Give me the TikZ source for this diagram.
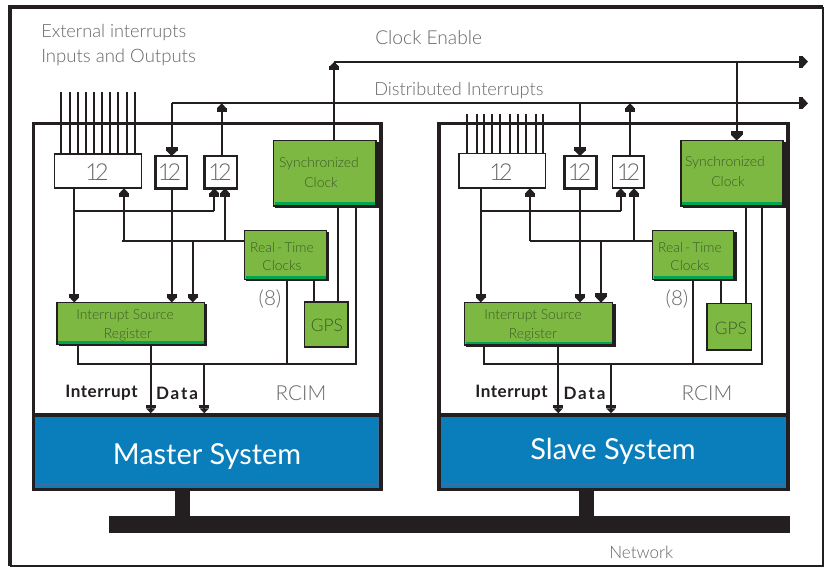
\documentclass[tikz,border=0pt]{standalone}
\usepackage{fontspec}
\setmainfont{Lato}
\newfontfamily\thinf{Lato Light}
\usetikzlibrary{arrows.meta,calc}
\definecolor{ink}{HTML}{231F20}
\definecolor{leaf}{HTML}{7DB942}
\definecolor{strip}{HTML}{00A651}
\definecolor{sea}{HTML}{0A7DBB}
\definecolor{seaedge}{HTML}{3F6F9F}
\definecolor{txt}{HTML}{666666}
\definecolor{gtxt}{HTML}{3E5A2A}
\tikzset{
  x=0.75pt,y=-0.75pt,
  wire/.style={draw=ink,line width=1.25pt},
  hd/.style={wire,-{Rectangle[width=7.6pt,length=2.6pt,sep=0pt]Triangle[width=6.6pt,length=3.6pt,sep=0pt]}},
  hdbig/.style={wire,-{Rectangle[width=9pt,length=3pt,sep=0pt]Triangle[width=8pt,length=4pt,sep=0pt]}},
  regbox/.style={draw=ink,line width=1.25pt,fill=white,inner sep=0pt,outer sep=0pt},
  regboxb/.style={regbox,line width=1.9pt},
  greenbox/.style={draw=ink,line width=1.4pt,fill=leaf,inner sep=0pt,outer sep=0pt},
  rcimbox/.style={draw=ink,line width=2.6pt,fill=white,inner sep=0pt,outer sep=0pt},
  sysbox/.style={draw=ink,line width=2.6pt,fill=sea,inner sep=0pt,outer sep=0pt},
  lab/.style={text=txt,font=\thinf\fontsize{13.6}{14}\selectfont,inner sep=0pt,anchor=base west},
  num/.style={text=txt,font=\thinf\fontsize{17.5}{18}\selectfont,inner sep=0pt},
  glab/.style={text=gtxt,font=\thinf\fontsize{10.4}{11}\selectfont,inner sep=0pt},
  gpslab/.style={glab,font=\thinf\fontsize{13}{14}\selectfont},
  rc/.style={text=txt,font=\thinf\fontsize{15.5}{16}\selectfont,inner sep=0pt},
  bli/.style={text=ink,font=\fontsize{12.8}{13}\selectfont\bfseries\addfontfeature{LetterSpace=3},inner sep=0pt},
  bld/.style={text=ink,font=\fontsize{12.8}{13}\selectfont\bfseries\addfontfeature{LetterSpace=11},inner sep=0pt},
  sy/.style={text=white,font=\fontsize{21.7}{24}\selectfont,inner sep=0pt},
  bus/.style={draw=none,fill=ink,inner sep=0pt,outer sep=0pt},
  intoframe/.style={shorten >=1.3pt},
}
% name, style, x1, y1, x2, y2
\newcommand{\bx}[6]{\node[#2,minimum width={(#5-#3)*0.75pt},minimum height={(#6-#4)*0.75pt}] (#1) at ({(#3+#5)/2},{(#4+#6)/2}) {};}
\newcommand{\twelve}{1\kern-3pt 2}
\newcommand{\rtime}{Real\kern1.5pt-\kern1.5pt Time}
\begin{document}
\begin{tikzpicture}
\useasboundingbox (0,0) rectangle (826,567);
\fill[white] (0,0) rectangle (826,567);
% outer frame
\draw[ink,line width=2.6pt] (823,7) -- (10,7) -- (10,566);
\draw[ink,line width=1.4pt] (823,7) -- (823,566) -- (10,566);

% network
\bx{mstem}{bus}{175}{488}{190}{518}
\bx{sstem}{bus}{579}{488}{594}{518}
\bx{net}{bus}{109}{516}{790}{533}

% boxes
\bx{mrcim}{rcimbox}{33.5}{123.5}{381}{415}
\bx{msys}{sysbox}{33.5}{415}{381}{489.5}
\bx{srcim}{rcimbox}{439}{123.5}{788}{415}
\bx{ssys}{sysbox}{439}{415}{788}{489.5}
\draw[seaedge,line width=0.6pt] (36,484.7) -- (378.5,484.7) -- (378.5,417.5);
\draw[seaedge,line width=0.6pt] (441.5,484.7) -- (785.5,484.7) -- (785.5,417.5);

% coordinates of master wires
\coordinate (ma) at (74.3,0);
\coordinate (mb) at (124,0);
\coordinate (mc) at (171.7,0);
\coordinate (md) at (192.7,0);
\coordinate (me) at (214.3,0);
\coordinate (mf) at (221.7,0);
\coordinate (mg) at (225,0);
\coordinate (mh) at (286.7,0);
\coordinate (mi) at (314.3,0);
\coordinate (mj) at (334.3,0);
\coordinate (mk) at (338.3,0);
\coordinate (ml) at (356,0);
\coordinate (mm) at (78.3,0);
\coordinate (mn) at (150.7,0);
\coordinate (mo) at (204.3,0);
\coordinate (bra) at (0,211);
\coordinate (brb) at (0,241);
\coordinate (brc) at (0,364);
\coordinate (clk) at (0,61.7);
\coordinate (dis) at (0,103.3);
\coordinate (mstart) at (121.7,241);
\coordinate (clkend) at (808,61.7);
\coordinate (disend) at (808,103.3);
% slave wires
\coordinate (sa) at (480.7,0);
\coordinate (sb) at (530,0);
\coordinate (sc) at (580,0);
\coordinate (sd) at (601,0);
\coordinate (se) at (620.7,0);
\coordinate (sf) at (630,0);
\coordinate (sg) at (634,0);
\coordinate (sh) at (693,0);
\coordinate (si) at (720.7,0);
\coordinate (sj) at (736.7,0);
\coordinate (sk) at (745.7,0);
\coordinate (sl) at (762.3,0);
\coordinate (sm) at (484,0);
\coordinate (sn) at (558.3,0);
\coordinate (so) at (611,0);

% shadows
\fill[ink] (275,142) rectangle (379,208);
\fill[ink] (246,232) rectangle (329,281);
\fill[ink] (59,304) rectangle (207,346);
\fill[ink] (683,142) rectangle (788,208);
\fill[ink] (654,232) rectangle (737,281);
\fill[ink] (466,304) rectangle (616,347);

% master nodes
\bx{mw}{regbox}{54.5}{154}{141.5}{188.3}
\bx{ma12}{regboxb}{155.5}{156}{187}{188.3}
\bx{mb12}{regboxb}{204.7}{156}{237}{188.3}
\bx{msc}{greenbox}{273.5}{140.5}{376}{206}
\bx{mrt}{greenbox}{244.5}{230.5}{326.5}{279.5}
\bx{mis}{greenbox}{57}{302.5}{204.5}{344.5}
\bx{mgps}{greenbox}{304.5}{302}{348}{347}
% slave nodes
\bx{sw}{regbox}{459}{153.5}{545.5}{188.3}
\bx{sa12}{regboxb}{564.7}{156}{596.5}{188.3}
\bx{sb12}{regbox}{612.5}{156}{644.2}{188.3}
\bx{ssc}{greenbox}{681}{140.5}{783}{206}
\bx{srt}{greenbox}{652.5}{230.5}{733.5}{279.5}
\bx{sis}{greenbox}{464.5}{302.5}{612.5}{345}
\bx{sgps}{greenbox}{707}{303.5}{751.5}{350}
% green strips
\fill[strip] (275,202) rectangle (375,205);
\fill[strip] (246,276) rectangle (325.5,278.7);
\fill[strip] (58,341) rectangle (203.5,343.7);
\fill[strip] (682,202) rectangle (782,205);
\fill[strip] (654,276) rectangle (732.5,278.7);
\fill[strip] (466,341.5) rectangle (611.5,344);

% external inputs
\coordinate (mtop) at (0,91.7);
\foreach \i/\xx in {1/60.7,2/70,3/78,4/85.7,5/93.7,6/102,7/110,8/118.3,9/127.3,10/135.3}{
  \coordinate (mi\i) at (\xx,0);
  \draw[wire] (mi\i |- mtop) -- (mi\i |- mw.north);
}
\coordinate (stop) at (0,114);
\foreach \i/\xx in {1/466.7,2/476.7,3/484.3,4/492.3,5/500,6/510,7/518.3,8/526,9/535.7,10/543.3}{
  \coordinate (si\i) at (\xx,0);
  \draw[wire] (si\i |- stop) -- (si\i |- sw.north);
}

% master wires
\draw[hd] (mj |- msc.north) -- (mj |- clk);
\draw[hdbig] (mj |- clk) -- (clkend);
\draw[hdbig] (mc |- dis) -- (disend);
\draw[hdbig] (mc |- dis) -- (mc |- ma12.north);
\draw[hd] (mf |- mb12.north) -- (mf |- dis);
\draw[hd] (ma |- mw.south) -- (ma |- mis.north);
\draw[wire] (ma |- bra) -- (me |- bra);
\draw[hd] (me |- bra) -- (me |- mb12.south);
\draw[hd] (mc |- ma12.south) -- (mc |- mis.north);
\draw[wire] (mstart) -- (mrt.west |- brb);
\draw[hd] (mb |- brb) -- (mb |- mw.south);
\draw[hd] (md |- brb) -- (md |- mis.north);
\draw[hd] (mg |- brb) -- (mg |- mb12.south);
\draw[wire] (mh |- mrt.south) -- (mh |- brc);
\draw[wire] (mi |- mrt.south) -- (mi |- mgps.north);
\draw[wire] (mk |- msc.south) -- (mk |- mgps.north);
\draw[wire] (ml |- msc.south) -- (ml |- brc) -- (mm |- brc) -- (mm |- mis.south);
\draw[hd,intoframe] (mn |- mis.south) -- (mn |- mrcim.south);
\draw[hd,intoframe] (mo |- brc) -- (mo |- mrcim.south);

% slave wires
\draw[hdbig] (sj |- clk) -- (sj |- ssc.north);
\draw[hdbig] (sc |- dis) -- (sc |- sa12.north);
\draw[hd] (sf |- sb12.north) -- (sf |- dis);
\draw[hd] (sa |- sw.south) -- (sa |- sis.north);
\draw[wire] (sa |- bra) -- (se |- bra);
\draw[hd] (se |- bra) -- (se |- sb12.south);
\draw[hd] (sc |- sa12.south) -- (sc |- sis.north);
\draw[wire] (sb |- brb) -- (srt.west |- brb);
\draw[hd] (sb |- brb) -- (sb |- sw.south);
\draw[hdbig] (sd |- brb) -- (sd |- sis.north);
\draw[hd] (sg |- brb) -- (sg |- sb12.south);
\draw[wire] (sh |- srt.south) -- (sh |- brc);
\draw[wire] (si |- srt.south) -- (si |- sgps.north);
\draw[wire] (sk |- ssc.south) -- (sk |- sgps.north);
\draw[wire] (sl |- ssc.south) -- (sl |- brc) -- (sm |- brc) -- (sm |- sis.south);
\draw[hd,intoframe] (sn |- sis.south) -- (sn |- srcim.south);
\draw[hd,intoframe] (so |- brc) -- (so |- srcim.south);

% texts
\node[lab] (t1) at (41,37.5) {External interrupts};
\node[lab,font=\thinf\fontsize{13.9}{14}\selectfont] (t2) at (41,63) {Inputs and Outputs};
\node[lab,font=\thinf\fontsize{14.4}{15}\selectfont] (t3) at (375,44.5) {Clock Enable};
\node[lab] (t4) at (374,95.5) {Distributed Interrupts};
\node[lab,font=\thinf\fontsize{12.8}{14}\selectfont] (t5) at (609,558) {Network};

\node[num] (n1) at (97,172) {\twelve};
\node[num] (n2) at (169.5,172.5) {\twelve};
\node[num] (n3) at (220,172.5) {\twelve};
\node[num] (n4) at (501,172) {\twelve};
\node[num] (n5) at (579.5,172.5) {\twelve};
\node[num] (n6) at (628.5,172.5) {\twelve};

\node[glab] (g1) at (319,164) {Synchronized};
\node[glab] (g2) at (321,183) {Clock};
\node[glab] (g3) at (282,248) {\rtime};
\node[glab] (g4) at (282,265.5) {Clocks};
\node[glab] (g5) at (125,316) {Interrupt Source};
\node[glab] (g6) at (128,335) {Register};
\node[gpslab] (g7) at (327,325) {GPS};
\node[glab] (g8) at (725,163) {Synchronized};
\node[glab] (g9) at (728,182) {Clock};
\node[glab] (g10) at (690,248) {\rtime};
\node[glab] (g11) at (690,265.5) {Clocks};
\node[glab] (g12) at (533,316) {Interrupt Source};
\node[glab] (g13) at (533,335) {Register};
\node[gpslab] (g14) at (731,328) {GPS};

\node[rc] (e1) at (270,298.5) {(8)};
\node[rc] (e2) at (677,298.5) {(8)};
\node[rc] (r1) at (301,393) {RCIM};
\node[rc] (r2) at (707,393) {RCIM};

\node[bli] (b1) at (101.5,393) {Interrupt};
\node[bld] (b2) at (177,393) {Data};
\node[bli] (b3) at (511.5,393) {Interrupt};
\node[bld] (b4) at (584.5,393) {Data};

\node[sy] (s1) at (207,456) {Master System};
\node[sy] (s2) at (613,451) {Slave System};
\end{tikzpicture}
\end{document}
